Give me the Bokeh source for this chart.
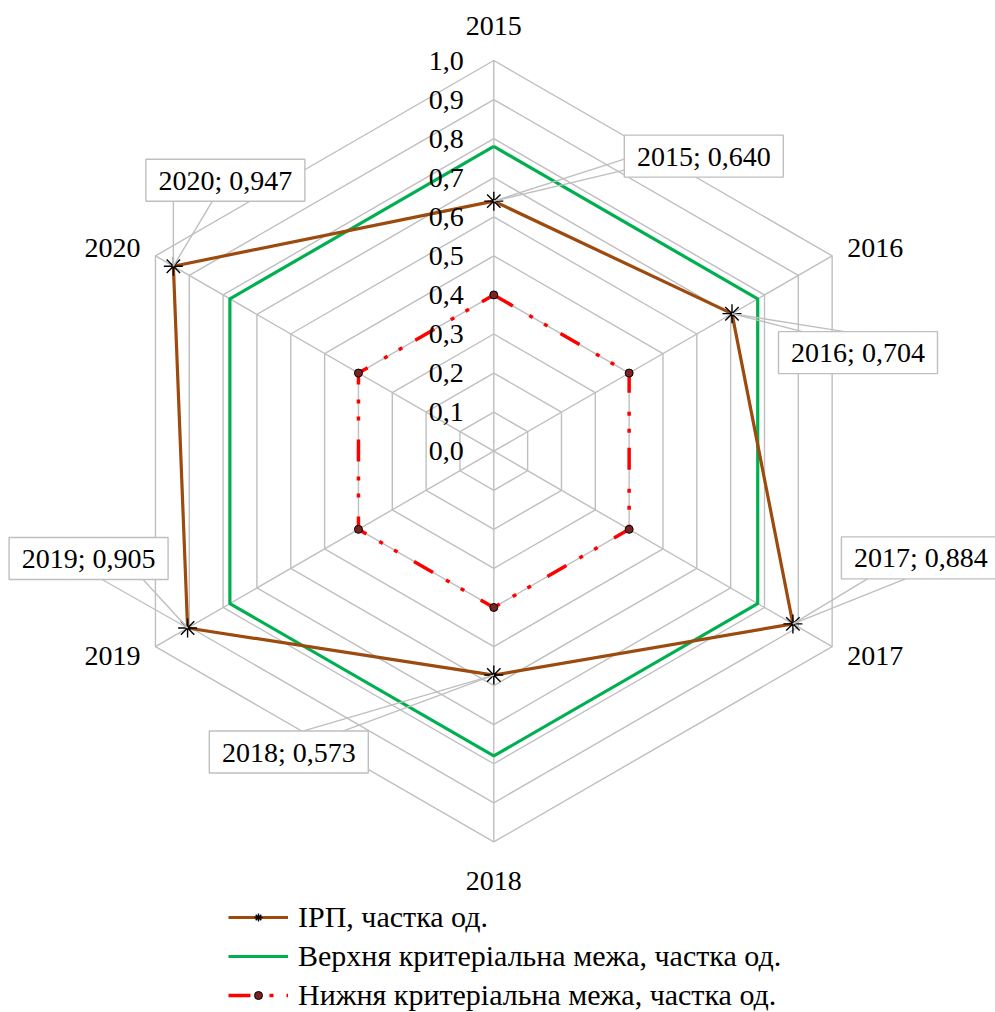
import numpy as np
from bokeh.plotting import figure
from bokeh.models import Legend, LegendItem, ColumnDataSource
from bokeh.core.properties import value
from bokeh.embed import file_html
from bokeh.resources import INLINE

# ---------------- data ----------------
years = ["2015", "2016", "2017", "2018", "2019", "2020"]
irp = [0.640, 0.704, 0.884, 0.573, 0.905, 0.947]
upper = [0.78, 0.78, 0.78, 0.78, 0.78, 0.78]
lower = [0.40, 0.40, 0.40, 0.40, 0.40, 0.40]
ticks = [0.0, 0.1, 0.2, 0.3, 0.4, 0.5, 0.6, 0.7, 0.8, 0.9, 1.0]
tick_labels = ["0,0", "0,1", "0,2", "0,3", "0,4", "0,5", "0,6", "0,7", "0,8", "0,9", "1,0"]
series_names = ["ІРП, частка од.",
                "Верхня критеріальна межа, частка од.",
                "Нижня критеріальна межа, частка од."]
data_labels = [f"{y}; {v:.3f}".replace(".", ",") for y, v in zip(years, irp)]

# ---------------- layout ----------------
W, H = 995, 1012
S = 390.7                    # pixels per unit of radius
cx, cy = 493.3, 450.7        # centre in canvas pixels
FONT = "Liberation Serif"
GRID = "#BFBFBF"

p = figure(width=W, height=H, output_backend="svg", toolbar_location=None,
           x_range=(-cx / S, (W - cx) / S), y_range=((cy - H) / S, cy / S),
           x_axis_location=None, y_axis_location=None, min_border=0,
           background_fill_color="white", border_fill_color="white")
p.grid.visible = False
p.outline_line_color = None

theta = np.deg2rad(90 - 60 * np.arange(len(years)))
ux, uy = np.cos(theta), np.sin(theta)

def ring(vals):
    v = np.asarray(vals, dtype=float)
    xs = list(v * ux) + [v[0] * ux[0]]
    ys = list(v * uy) + [v[0] * uy[0]]
    return xs, ys

# grid rings
gx, gy = [], []
for t in ticks[1:]:
    xs, ys = ring([t] * len(years))
    gx.append(xs); gy.append(ys)
p.multi_line(gx, gy, line_color=GRID, line_width=1.4)
# spokes
p.segment(x0=[0] * 6, y0=[0] * 6, x1=list(ux), y1=list(uy), line_color=GRID, line_width=1.4)

# series
lx, ly = ring(lower)
r_low = p.line(lx, ly, line_color="#FF0000", line_width=3.5, line_dash="22 19 4 13 4 15")
r_low_m = p.scatter(lx[:-1], ly[:-1], marker="circle", size=8, fill_color="#7A2323",
                    line_color="black", line_width=1)
ux_, uy_ = ring(upper)
r_up = p.line(ux_, uy_, line_color="#00B050", line_width=3.2)
ix, iy = ring(irp)
r_irp = p.line(ix, iy, line_color="#9C4A0E", line_width=3.2)
r_irp_m = p.scatter(ix[:-1], iy[:-1], marker="asterisk", size=19, line_color="black",
                    line_width=1.4)

# tick labels on the top spoke
p.text(x=[-30 / S] * len(ticks), y=ticks, text=tick_labels, text_font=value(FONT),
       text_font_size="28px", text_align="right", text_baseline="middle", text_color="black")

# category labels
cat_dx = [0, 15, 15, 0, -15, -15]
cat_dy = [-35, -8, 9, 39, 9, -8]
cat_align = ["center", "left", "left", "center", "right", "right"]
cat_src = ColumnDataSource(dict(
    x=[ux[i] + cat_dx[i] / S for i in range(6)],
    y=[uy[i] - cat_dy[i] / S for i in range(6)],
    text=years, align=cat_align))
p.text(x="x", y="y", text="text", text_align="align", source=cat_src, text_font=value(FONT),
       text_font_size="28px", text_baseline="middle", text_color="black")

# data label callouts (pixel offsets of box centre from point; wedge base relative to box centre)
box_dx = [210, 126, 128, -205, -99, 52]
box_dy = [-45, 39, -66, 77, -69.5, -86]
wedge = [((-79.5, 3), (-79.5, 14)), ((-55.5, -21), (-13.5, -21)), ((-53.5, 21), (-15.5, 21)),
         ((14, -21), (54, -21)), ((13.5, 21), (54.5, 21)), ((-52, 21), (-13, 21))]
px_ = [irp[i] * ux[i] for i in range(6)]
py_ = [irp[i] * uy[i] for i in range(6)]
bx = [px_[i] + box_dx[i] / S for i in range(6)]
by = [py_[i] - box_dy[i] / S for i in range(6)]
wx0, wy0, wx1, wy1 = [], [], [], []
for i in range(6):
    for (dx, dy) in wedge[i]:
        wx0.append(px_[i]); wy0.append(py_[i])
        wx1.append(bx[i] + dx / S); wy1.append(by[i] - dy / S)
p.segment(x0=wx0, y0=wy0, x1=wx1, y1=wy1, line_color=GRID, line_width=1.4)
p.rect(x=bx, y=by, width=159, height=42, width_units="screen", height_units="screen",
       fill_color="white", line_color=GRID, line_width=1.4)
p.text(x=bx, y=by, text=data_labels, text_font=value(FONT), text_font_size="28px",
       text_align="center", text_baseline="middle", text_color="black")

# legend
legend = Legend(items=[
    LegendItem(label=series_names[0], renderers=[r_irp, r_irp_m]),
    LegendItem(label=series_names[1], renderers=[r_up]),
    LegendItem(label=series_names[2], renderers=[r_low, r_low_m]),
], location=(228, 0), orientation="vertical", glyph_width=60, glyph_height=20,
    label_height=20, spacing=5, padding=0, margin=0, label_standoff=10,
    label_text_font=FONT, label_text_font_size="30px", label_text_color="black",
    background_fill_alpha=0, border_line_color=None)
p.add_layout(legend, "center")

open("out.html", "w").write(file_html(p, INLINE))
